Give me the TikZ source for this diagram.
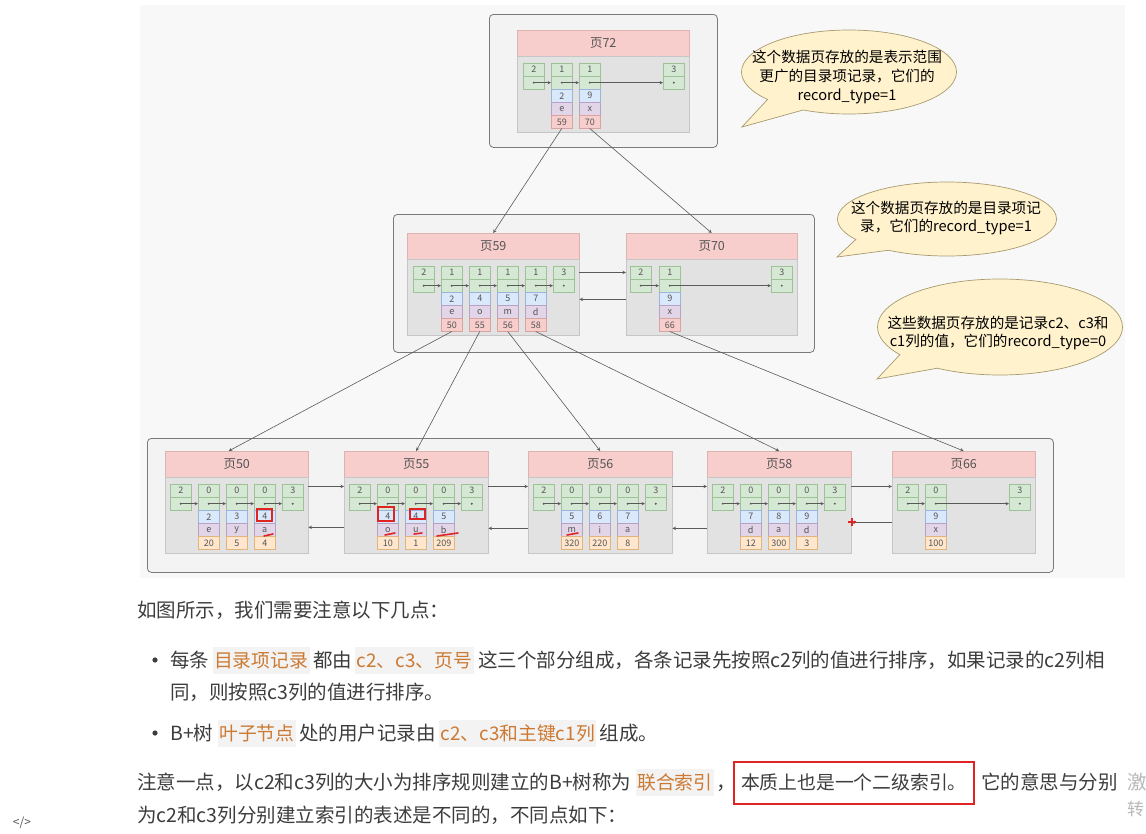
\documentclass[tikz,border=0pt]{standalone}
\usepackage{fontspec}
\setmainfont{Noto Sans CJK SC}
\usetikzlibrary{positioning,shapes.callouts}

\definecolor{SheetBg}{HTML}{F8F8F8}
\definecolor{GroupBg}{HTML}{F3F3F3}
\definecolor{GroupLine}{HTML}{7A7A7A}
\definecolor{HeadFill}{HTML}{F8CECC}
\definecolor{HeadLine}{HTML}{DDB3B1}
\definecolor{BodyFill}{HTML}{E2E2E2}
\definecolor{BodyLine}{HTML}{C6C6C6}
\definecolor{GreenFill}{HTML}{D5E8D4}
\definecolor{GreenLine}{HTML}{9DC296}
\definecolor{BlueFill}{HTML}{DAE8FC}
\definecolor{BlueLine}{HTML}{9AB4DA}
\definecolor{PurpleFill}{HTML}{E1D5E7}
\definecolor{PurpleLine}{HTML}{B7A1C5}
\definecolor{PinkFill}{HTML}{F8CECC}
\definecolor{PinkLine}{HTML}{D9A3A1}
\definecolor{OrangeFill}{HTML}{FFE6CC}
\definecolor{OrangeLine}{HTML}{E2B47C}
\definecolor{NoteFill}{HTML}{FFF2CC}
\definecolor{NoteLine}{HTML}{A89A6E}
\definecolor{CellText}{HTML}{555555}
\definecolor{LinkGray}{HTML}{5A5A5A}
\definecolor{BodyText}{HTML}{3D3D3D}
\definecolor{CodeText}{HTML}{CC7A33}
\definecolor{CodeBg}{HTML}{F3F3F3}
\definecolor{MarkRed}{HTML}{E02424}
\definecolor{FadedText}{HTML}{B8B8B8}

\begin{document}
\begin{tikzpicture}[x=1pt, y=-1pt,
  grp/.style={rectangle, draw=GroupLine, fill=GroupBg, rounded corners=4pt, line width=0.8pt, inner sep=0pt, anchor=north west},
  phead/.style={rectangle, draw=HeadLine, fill=HeadFill, minimum height=26pt, inner sep=0pt, anchor=north west, text=CellText, font=\fontsize{12.5}{14}\selectfont},
  pbody/.style={rectangle, draw=BodyLine, fill=BodyFill, minimum height=76pt, inner sep=0pt, anchor=north},
  slot/.style={rectangle, minimum width=21pt, minimum height=12.6pt, inner sep=0pt, line width=0.5pt, text=CellText, font=\fontsize{9}{10}\selectfont},
  gtop/.style={slot, draw=GreenLine, fill=GreenFill, anchor=north west},
  gbot/.style={slot, draw=GreenLine, fill=GreenFill, anchor=north},
  kcell/.style={slot, draw=BlueLine, fill=BlueFill, anchor=north},
  ccell/.style={slot, draw=PurpleLine, fill=PurpleFill, anchor=north},
  pcell/.style={slot, draw=PinkLine, fill=PinkFill, anchor=north},
  idcell/.style={slot, draw=OrangeLine, fill=OrangeFill, anchor=north},
  ptr/.style={->, >=stealth, color=LinkGray, line width=0.5pt},
  link/.style={->, >=stealth, color=LinkGray, line width=0.6pt},
  note/.style={ellipse callout, draw=NoteLine, fill=NoteFill, line width=0.7pt, callout pointer arc=24},
  notetext/.style={align=center, inner sep=0pt, text=black, font=\fontsize{14.6}{18.8}\selectfont},
  para/.style={anchor=base west, inner sep=0pt, text=BodyText, font=\fontsize{19.5}{24}\selectfont},
  codespan/.style={para, fill=CodeBg, text=CodeText, inner xsep=1.5pt, text height=20pt, text depth=7pt, font=\fontsize{18.8}{24}\selectfont},
  redmark/.style={draw=MarkRed, line width=1.6pt}
]
\useasboundingbox (0,0) rectangle (1146,833);
\fill[white] (0,0) rectangle (1146,833);
\fill[SheetBg] (140,5) rectangle (1125,578);

% Groups
\node[grp, minimum width=228pt, minimum height=133pt] (grp72) at (489,14) {};
\node[grp, minimum width=421pt, minimum height=138pt] (grpmid) at (393,214) {};
\node[grp, minimum width=906pt, minimum height=134pt] (grpleaf) at (147,438) {};

% Pages
\foreach \p/\x/\y/\w in {72/517/30/172, 59/407/233/172, 70/626/233/171, 50/165/451/143, 55/344/451/144, 56/528/451/144, 58/707/451/144, 66/892/451/143} {
  \node[phead, minimum width=\w pt] (h\p) at (\x,\y) {页\p};
  \node[pbody, minimum width=\w pt] (b\p) at (h\p.south) {};
}

% Page 72 slots
\foreach \i/\x/\n in {1/523/2, 2/551/1, 3/579/1, 4/663/3} {
  \node[gtop] (t72-\i) at (\x,63) {\n};
  \node[gbot] (d72-\i) at (t72-\i.south) {};
}
\foreach \i/\a/\b/\c in {2/2/e/59, 3/9/x/70} {
  \node[kcell] (k72-\i) at (d72-\i.south) {\a};
  \node[ccell] (c72-\i) at (k72-\i.south) {\b};
  \node[pcell] (r72-\i) at (c72-\i.south) {\c};
}
\foreach \i/\j in {1/2, 2/3, 3/4}
  \draw[ptr] (d72-\i.center) -- (d72-\j.west);

% Page 59 and page 70 slots
\foreach \i/\n in {1/2, 2/1, 3/1, 4/1, 5/1, 6/3} {
  \node[gtop] (t59-\i) at ({413+28*(\i-1)},266) {\n};
  \node[gbot] (d59-\i) at (t59-\i.south) {};
}
\foreach \i/\a/\b/\c in {2/2/e/50, 3/4/o/55, 4/5/m/56, 5/7/d/58} {
  \node[kcell] (k59-\i) at (d59-\i.south) {\a};
  \node[ccell] (c59-\i) at (k59-\i.south) {\b};
  \node[pcell] (r59-\i) at (c59-\i.south) {\c};
}
\foreach \i/\j in {1/2, 2/3, 3/4, 4/5, 5/6}
  \draw[ptr] (d59-\i.center) -- (d59-\j.west);

\foreach \i/\x/\n in {1/630/2, 2/659/1, 3/771/3} {
  \node[gtop] (t70-\i) at (\x,266) {\n};
  \node[gbot] (d70-\i) at (t70-\i.south) {};
}
\node[kcell] (k70-2) at (d70-2.south) {9};
\node[ccell] (c70-2) at (k70-2.south) {x};
\node[pcell] (r70-2) at (c70-2.south) {66};
\foreach \i/\j in {1/2, 2/3}
  \draw[ptr] (d70-\i.center) -- (d70-\j.west);

% Leaf pages
\foreach \p/\x in {50/170, 55/349, 56/533, 58/712} {
  \foreach \i/\n in {1/2, 2/0, 3/0, 4/0, 5/3} {
    \node[gtop] (t\p-\i) at ({\x+28*(\i-1)},484) {\n};
    \node[gbot] (d\p-\i) at (t\p-\i.south) {};
  }
  \foreach \i/\j in {1/2, 2/3, 3/4, 4/5}
    \draw[ptr] (d\p-\i.center) -- (d\p-\j.west);
}
\foreach \i/\x/\n in {1/897/2, 2/925/0, 3/1009/3} {
  \node[gtop] (t66-\i) at (\x,484) {\n};
  \node[gbot] (d66-\i) at (t66-\i.south) {};
}
\foreach \i/\j in {1/2, 2/3}
  \draw[ptr] (d66-\i.center) -- (d66-\j.west);

\foreach \p/\i/\a/\b/\c in {50/2/2/e/20, 50/3/3/y/5, 50/4/4/a/4, 55/2/4/o/10, 55/3/4/u/1, 55/4/5/b/209,
                            56/2/5/m/320, 56/3/6/i/220, 56/4/7/a/8, 58/2/7/d/12, 58/3/8/a/300, 58/4/9/d/3, 66/2/9/x/100} {
  \node[kcell] (k\p-\i) at (d\p-\i.south) {\a};
  \node[ccell] (c\p-\i) at (k\p-\i.south) {\b};
  \node[idcell] (r\p-\i) at (c\p-\i.south) {\c};
}

% dots on every pointer slot
\foreach \n in {d72-1,d72-2,d72-3,d72-4,d59-1,d59-2,d59-3,d59-4,d59-5,d59-6,d70-1,d70-2,d70-3,
                d50-1,d50-2,d50-3,d50-4,d50-5,d55-1,d55-2,d55-3,d55-4,d55-5,d56-1,d56-2,d56-3,d56-4,d56-5,
                d58-1,d58-2,d58-3,d58-4,d58-5,d66-1,d66-2,d66-3}
  \fill[LinkGray] (\n.center) circle (1.1);

% Tree links
\draw[link] (r72-2.south) -- (h59.north);
\draw[link] (r72-3.south) -- (h70.north);
\draw[link] (r59-2.south) -- ([xshift=-8pt]h50.north);
\draw[link] (r59-3.south) -- (h55.north);
\draw[link] (r59-4.south) -- (h56.north);
\draw[link] (r59-5.south) -- (h58.north);
\draw[link] (r70-2.south) -- (h66.north);

% Sibling links
\draw[link] ([yshift=-13pt]b59.north east) -- ([yshift=-13pt]b70.north west);
\draw[link] ([yshift=-40pt]b70.north west) -- ([yshift=-40pt]b59.north east);
\foreach \a/\b/\d in {50/55/50, 55/56/51, 56/58/51, 58/66/45} {
  \draw[link] ([yshift=-9pt]b\a.north east) -- ([yshift=-9pt]b\b.north west);
  \draw[link] ([yshift=-\d pt]b\b.north west) -- ([yshift=-\d pt]b\a.north east);
}

% Callouts
\node[note, minimum width=215pt, minimum height=84pt, callout absolute pointer={(742,127)}] (note72) at (849,72) {};
\node[notetext] (note72t) at (847,77) {这个数据页存放的是表示范围\\更广的目录项记录，它们的\\record\_type=1};
\node[note, minimum width=219pt, minimum height=74pt, callout absolute pointer={(837,257)}] (notemid) at (947,219) {};
\node[notetext] (notemidt) at (946,218) {这个数据页存放的是目录项记\\录，它们的record\_type=1};
\node[note, minimum width=245pt, minimum height=96pt, callout absolute pointer={(877,379)}] (noteleaf) at (1000,327) {};
\node[notetext] (noteleaft) at (998,333) {这些数据页存放的是记录c2、c3和\\c1列的值，它们的record\_type=0};

% hand marks
\draw[redmark] (257,509) rectangle (272,521);
\draw[redmark] (378,507) rectangle (394,521);
\draw[redmark] (410,509) rectangle (425,519);
\draw[redmark, line cap=round] (264,536) -- (273,534);
\draw[redmark, line cap=round] (385,535) -- (395,533);
\draw[redmark, line cap=round] (414,534) -- (422,533);
\draw[redmark, line cap=round] (437,536) -- (458,533);
\draw[redmark, line cap=round] (567,535) -- (578,533);
\draw[MarkRed, line width=1.3pt] (848,522) -- (856,522) (852,518) -- (852,526);

% Text below
\node[para] (intro) at (137,617) {如图所示，我们需要注意以下几点：};
\fill[BodyText] (155,660) circle (2.6);
\node[para] (b1a) at (170,667) {每条};
\node[codespan, base right=3pt of b1a] (b1b) {目录项记录};
\node[para, base right=3pt of b1b] (b1c) {都由};
\node[codespan, base right=3pt of b1c] (b1d) {c2、c3、页号};
\node[para, base right=4pt of b1d] (b1e) {这三个部分组成，各条记录先按照c2列的值进行排序，如果记录的c2列相};
\node[para] (b1f) at (170,699) {同，则按照c3列的值进行排序。};
\fill[BodyText] (155,733) circle (2.6);
\node[para] (b2a) at (170,740) {B+树};
\node[codespan, base right=4pt of b2a] (b2b) {叶子节点};
\node[para, base right=3pt of b2b] (b2c) {处的用户记录由};
\node[codespan, base right=3pt of b2c] (b2d) {c2、c3和主键c1列};
\node[para, base right=3pt of b2d] (b2e) {组成。};
\node[para] (n1a) at (137,789) {注意一点，以c2和c3列的大小为排序规则建立的B+树称为};
\node[codespan, base right=4pt of n1a] (n1b) {联合索引};
\node[para, base right=2pt of n1b] (n1c) {，};
\node[para, draw=MarkRed, line width=2.2pt, inner xsep=7pt, inner ysep=6pt, text height=21pt, text depth=9pt, font=\fontsize{18.8}{24}\selectfont] (n1d) at (733,789) {本质上也是一个二级索引。};
\node[para, base right=6pt of n1d] (n1e) {它的意思与分别};
\node[para, text=FadedText] (wm1) at (1127,789) {激};
\node[para] (n2a) at (137,822) {为c2和c3列分别建立索引的表述是不同的，不同点如下：};
\node[para, text=FadedText, font=\fontsize{17}{20}\selectfont] (wm2) at (1127,815) {转};
\node[text=CellText, font=\fontsize{12}{14}\selectfont] (srcicon) at (22,823) {</>};
\end{tikzpicture}
\end{document}
